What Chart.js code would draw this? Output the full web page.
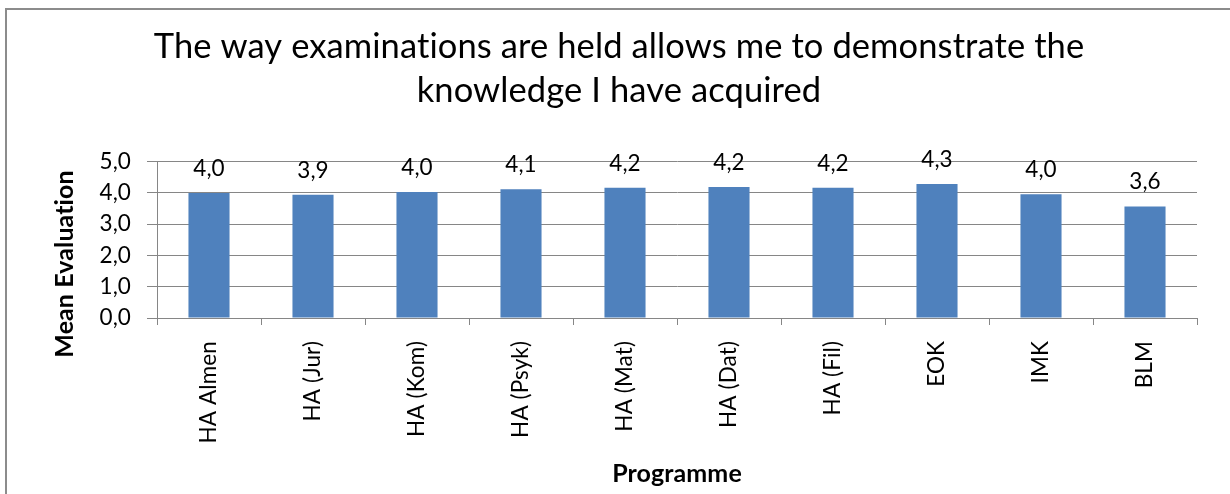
<!DOCTYPE html>
<html>
<head>
<meta charset="utf-8">
<script src="https://cdn.jsdelivr.net/npm/chart.js@4/dist/chart.umd.min.js"></script>
<style>
  html, body { margin: 0; padding: 0; background: #fff; overflow: hidden; }
  #wrap { position: absolute; left: 0; top: 0; width: 1230px; height: 494px; }
  #frame { position: absolute; left: 5px; top: 8px; width: 1260px; height: 520px; border: 2px solid #8c8c8c; box-sizing: border-box; pointer-events: none; }
</style>
</head>
<body>
<div id="wrap"><canvas id="chart"></canvas></div>
<div id="frame"></div>
<script>
// values
const programmes = ['HA Almen', 'HA (Jur)', 'HA (Kom)', 'HA (Psyk)', 'HA (Mat)', 'HA (Dat)', 'HA (Fil)', 'EOK', 'IMK', 'BLM'];
const meanScores = [4.00, 3.94, 4.03, 4.12, 4.17, 4.19, 4.17, 4.29, 3.96, 3.57];
const yTicks = [0, 1, 2, 3, 4, 5];

const titleLines = ['The way examinations are held allows me to demonstrate the', 'knowledge I have acquired'];
const yTitle = 'Mean Evaluation';
const xTitle = 'Programme';

const BAR = '#4f81bd';
const GRID = '#868686';
const FONT = 'Lato';
const TICK_SIZE = 22.5;

const fmt = v => v.toFixed(1).replace('.', ',');

// tiny letter spacing keeps Lato from using its "ti" ligature
const noLigatures = {
  id: 'noLigatures',
  beforeDraw(chart) { chart.ctx.letterSpacing = '0.1px'; }
};

// value labels above the bars
const barLabels = {
  id: 'barLabels',
  afterDatasetsDraw(chart) {
    const ctx = chart.ctx;
    const meta = chart.getDatasetMeta(0);
    ctx.save();
    ctx.font = TICK_SIZE + 'px ' + FONT;
    ctx.fillStyle = '#000';
    ctx.textAlign = 'center';
    ctx.textBaseline = 'alphabetic';
    meta.data.forEach((bar, i) => {
      ctx.fillText(fmt(meanScores[i]), bar.x, bar.y - 17);
    });
    ctx.restore();
  }
};

// y axis title sits a little below the plot centre in the original
const yAxisTitle = {
  id: 'yAxisTitle',
  afterDraw(chart) {
    const ctx = chart.ctx;
    ctx.save();
    ctx.translate(65, 264);
    ctx.rotate(-Math.PI / 2);
    ctx.font = 'bold 25px ' + FONT;
    ctx.fillStyle = '#000';
    ctx.textAlign = 'center';
    ctx.textBaseline = 'middle';
    ctx.fillText(yTitle, 0, 0);
    ctx.restore();
  }
};

new Chart(document.getElementById('chart'), {
  type: 'bar',
  data: {
    labels: programmes,
    datasets: [{
      data: meanScores,
      backgroundColor: BAR,
      borderWidth: 0,
      barPercentage: 0.395,
      categoryPercentage: 1.0,
    }],
  },
  options: {
    responsive: true,
    maintainAspectRatio: false,
    animation: false,
    layout: { padding: { left: 41, right: 33, top: 0, bottom: 0 } },
    plugins: {
      legend: { display: false },
      tooltip: { enabled: false },
      title: {
        display: true,
        text: titleLines,
        color: '#000',
        font: { family: FONT, size: 34.5, weight: 'normal', lineHeight: 1.3 },
        padding: { top: 24, bottom: 48 },
      },
    },
    scales: {
      x: {
        grid: { display: true, drawOnChartArea: false, drawTicks: true, tickLength: 7, color: GRID, offset: true },
        border: { display: true, color: GRID, width: 1 },
        ticks: { color: '#000', font: { family: FONT, size: TICK_SIZE }, maxRotation: 90, minRotation: 90, padding: 16, autoSkip: false },
        title: { display: true, text: xTitle, color: '#000', font: { family: FONT, size: 25, weight: 'bold', lineHeight: 1.2 }, padding: { top: 0, bottom: 5 } },
        afterFit: s => { s.height = 176; },
      },
      y: {
        min: 0,
        max: 5,
        afterBuildTicks: s => { s.ticks = yTicks.map(v => ({ value: v })); },
        grid: { color: GRID, lineWidth: 1, tickLength: 10 },
        border: { display: true, color: GRID, width: 1 },
        ticks: { color: '#000', font: { family: FONT, size: TICK_SIZE }, padding: 16, callback: v => fmt(v) },
        afterFit: s => { s.width = 116; },
      },
    },
  },
  plugins: [noLigatures, barLabels, yAxisTitle],
});
</script>
</body>
</html>
